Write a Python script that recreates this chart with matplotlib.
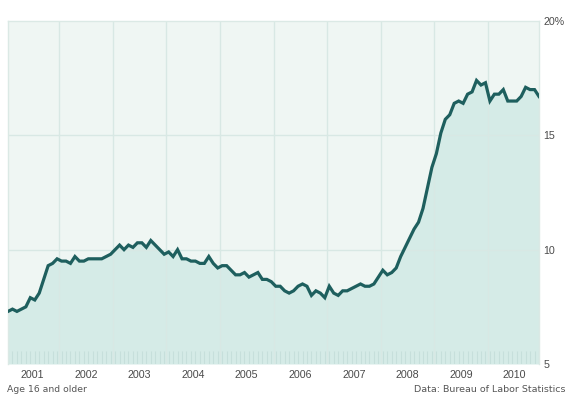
import matplotlib
matplotlib.use("Agg")
import matplotlib.pyplot as plt
import numpy as np

# U-6 style rate, monthly Jan 2001 - Dec 2010 (percent)
rate_2001 = [7.3, 7.4, 7.3, 7.4, 7.5, 7.9, 7.8, 8.1, 8.7, 9.3, 9.4, 9.6]
rate_2002 = [9.5, 9.5, 9.4, 9.7, 9.5, 9.5, 9.6, 9.6, 9.6, 9.6, 9.7, 9.8]
rate_2003 = [10.0, 10.2, 10.0, 10.2, 10.1, 10.3, 10.3, 10.1, 10.4, 10.2, 10.0, 9.8]
rate_2004 = [9.9, 9.7, 10.0, 9.6, 9.6, 9.5, 9.5, 9.4, 9.4, 9.7, 9.4, 9.2]
rate_2005 = [9.3, 9.3, 9.1, 8.9, 8.9, 9.0, 8.8, 8.9, 9.0, 8.7, 8.7, 8.6]
rate_2006 = [8.4, 8.4, 8.2, 8.1, 8.2, 8.4, 8.5, 8.4, 8.0, 8.2, 8.1, 7.9]
rate_2007 = [8.4, 8.1, 8.0, 8.2, 8.2, 8.3, 8.4, 8.5, 8.4, 8.4, 8.5, 8.8]
rate_2008 = [9.1, 8.9, 9.0, 9.2, 9.7, 10.1, 10.5, 10.9, 11.2, 11.8, 12.7, 13.6]
rate_2009 = [14.2, 15.1, 15.7, 15.9, 16.4, 16.5, 16.4, 16.8, 16.9, 17.4, 17.2, 17.3]
rate_2010 = [16.5, 16.8, 16.8, 17.0, 16.5, 16.5, 16.5, 16.7, 17.1, 17.0, 17.0, 16.7]

years = [2001, 2002, 2003, 2004, 2005, 2006, 2007, 2008, 2009, 2010]
y_ticks = [5, 10, 15, 20]
y_labels = ["5", "10", "15", "20%"]

values = np.array(rate_2001 + rate_2002 + rate_2003 + rate_2004 + rate_2005 +
                  rate_2006 + rate_2007 + rate_2008 + rate_2009 + rate_2010)
idx = np.arange(len(values))

W, H = 569, 398
fig = plt.figure(figsize=(W / 100, H / 100), dpi=100)
ax = fig.add_axes([8 / W, (H - 364) / H, (539 - 8) / W, (364 - 21) / H])

bg = "#eff6f3"
fill_c = "#d5ebe7"
line_c = "#1e5f5e"
grid_c = "#d8e8e4"

ax.set_facecolor(bg)
ax.set_xlim(0, len(values) - 1)
ax.set_ylim(5, 20)

ax.fill_between(idx, 5, values, color=fill_c, zorder=1, linewidth=0)

# gridlines
for k in range(1, len(years)):
    ax.axvline(12 * k - 0.5, color=grid_c, lw=1.0, zorder=2)
for yv in [10, 15]:
    ax.axhline(yv, color=grid_c, lw=1.0, zorder=2)

# monthly ticks along the bottom
ax.vlines(idx, 5, 5.55, color="#c6dfdb", lw=0.8, zorder=2)

ax.plot(idx, values, color=line_c, lw=2.3, zorder=3, solid_joinstyle="miter")

for s in ax.spines.values():
    s.set_color("#dbe9e5")
    s.set_linewidth(1.0)
ax.spines["bottom"].set_visible(False)

ax.yaxis.tick_right()
ax.set_yticks(y_ticks)
ax.set_yticklabels(y_labels)
ax.set_xticks([12 * k + 5.5 for k in range(len(years))])
ax.set_xticklabels([str(y) for y in years])
ax.tick_params(axis="both", length=0, labelsize=7.7, labelcolor="#4a4a4a")
ax.tick_params(axis="y", pad=3)
ax.tick_params(axis="x", pad=4)
for lab in ax.get_xticklabels() + ax.get_yticklabels():
    lab.set_fontfamily("Liberation Sans")

fig.text(7 / W, 1 - 389 / H, "Age 16 and older", fontsize=6.7, color="#555555",
         family="DejaVu Sans", ha="left", va="center")
fig.text(565 / W, 1 - 389 / H, "Data: Bureau of Labor Statistics", fontsize=6.8,
         color="#555555", family="DejaVu Sans", ha="right", va="center")

fig.savefig("out.png", dpi=100)
